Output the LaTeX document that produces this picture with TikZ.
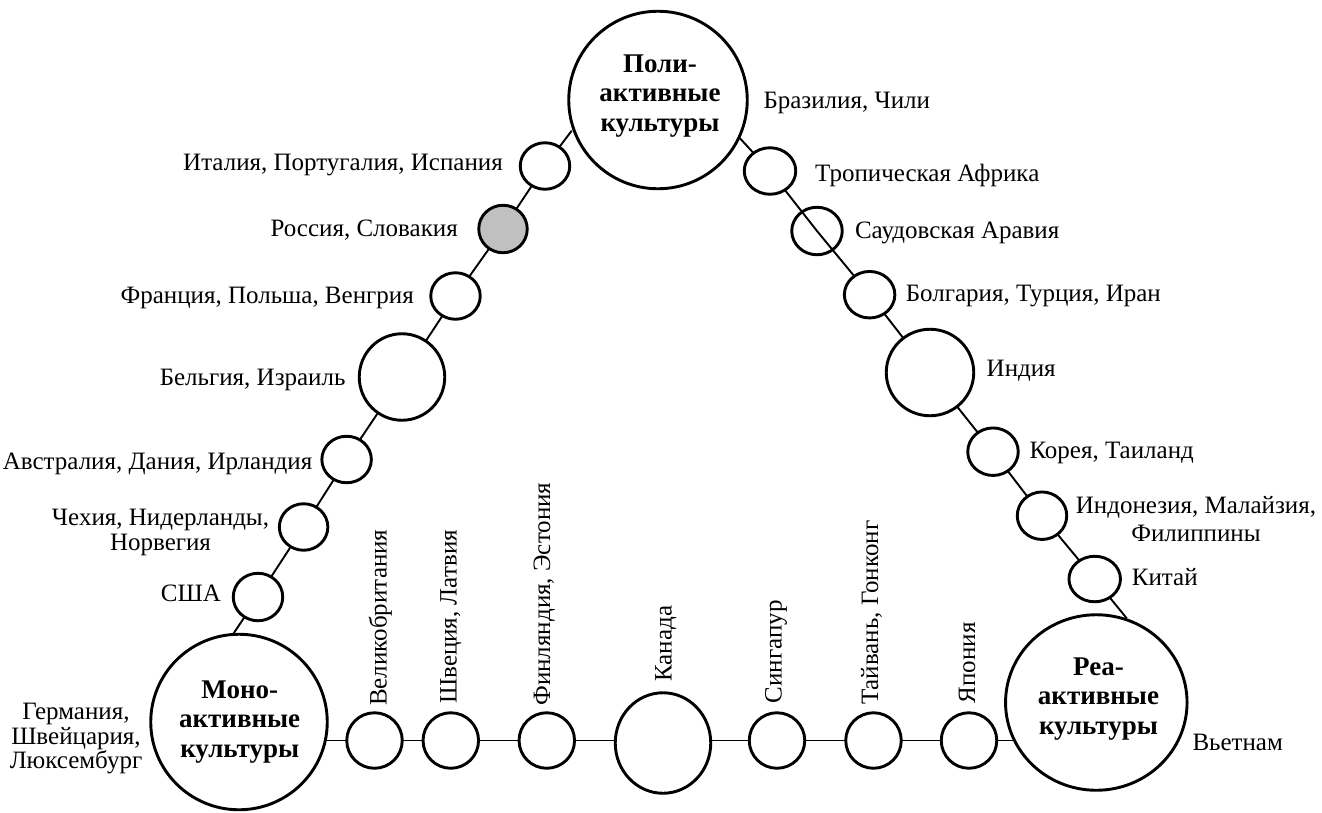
\documentclass[tikz,border=0pt]{standalone}
\usepackage{fontspec}
\setmainfont{Liberation Serif}
\usetikzlibrary{shapes.geometric}
\pgfdeclarelayer{background}
\pgfsetlayers{background,main}
\definecolor{rugray}{RGB}{192,192,192}
\tikzset{
  circ/.style={ellipse, draw, line width=2.9pt, fill=white, inner sep=0pt},
  sz/.style 2 args={minimum width=#1pt, minimum height=#2pt},
  conn/.style={line width=1.9pt},
  lbl/.style={inner sep=0pt, font=\fontsize{25}{24.5}\selectfont},
  lblv/.style={lbl, rotate=90, anchor=base west},
  big/.style={inner sep=0pt, align=center, font=\fontsize{27}{29.5}\selectfont\bfseries},
}
\begin{document}
\begin{tikzpicture}[x=1pt, y=-1pt]
\useasboundingbox (0,0) rectangle (1322,812);

% main circles
\node[circ, sz={178.5}{177.5}] (poli) at (658,100) {};
\node[circ, sz={176.5}{175.5}] (mono) at (239,722) {};
\node[circ, sz={181.5}{175.5}] (rea) at (1096.3,702.5) {};

% left chain
\node[circ, sz={49.5}{46.5}] (italy) at (545,166) {};
\node[circ, sz={48.5}{47.5}, fill=rugray] (russia) at (503,229) {};
\node[circ, sz={49.5}{46.5}] (france) at (455.5,296) {};
\node[circ, sz={85.5}{86.5}] (belgium) at (402,377) {};
\node[circ, sz={49.5}{46.5}] (australia) at (346.6,459.5) {};
\node[circ, sz={48.5}{46.5}] (czech) at (303.6,527) {};
\node[circ, sz={49.5}{47.5}] (usa) at (258,597) {};

% right chain
\node[circ, sz={51.5}{46.5}] (trop) at (770,171) {};
\node[circ, sz={50.5}{47.5}, fill=none] (saudi) at (817,231) {};
\node[circ, sz={50.5}{46.5}] (bulgaria) at (869.6,294.7) {};
\node[circ, sz={87.5}{86.5}] (india) at (930,372.5) {};
\node[circ, sz={50.5}{47.5}] (korea) at (993,451.7) {};
\node[circ, sz={49.5}{47.5}] (indonesia) at (1042,515.7) {};
\node[circ, sz={51.5}{45.5}] (china) at (1094.7,579) {};

% bottom row
\node[circ, sz={55.5}{55.5}] (gb) at (374.5,740.5) {};
\node[circ, sz={55.5}{55.5}] (sweden) at (450.8,740.5) {};
\node[circ, sz={55.5}{55.5}] (finland) at (546.8,740.5) {};
\node[circ, sz={95.5}{100.5}] (canada) at (663,743) {};
\node[circ, sz={55.5}{55.5}] (singapore) at (777,740.5) {};
\node[circ, sz={55.5}{55.5}] (taiwan) at (873.5,740.5) {};
\node[circ, sz={55.5}{55.5}] (japan) at (969,740.5) {};

% free ends on the big circles
\coordinate (poliL) at (571.7,130.7);
\coordinate (poliR) at (739.7,138);
\coordinate (monoT) at (233.5,633.5);
\coordinate (reaT) at (1126.7,618.3);

\begin{pgfonlayer}{background}
  \draw[conn] (poliL) -- (italy.center) -- (russia.center) -- (france.center)
     -- (belgium.center) -- (australia.center) -- (czech.center) -- (usa.center) -- (monoT);
  \draw[conn] (poliR) -- (trop.center) -- (saudi.center) -- (bulgaria.center)
     -- (india.center) -- (korea.center) -- (indonesia.center) -- (china.center) -- (reaT);
  \draw[conn] (gb.center -| mono.center) -- (gb.center) -- (sweden.center) -- (finland.center)
     -- (canada.center |- gb.center) -- (singapore.center) -- (taiwan.center) -- (japan.center)
     -- (japan.center -| rea.center);
\end{pgfonlayer}

% bold titles
\node[big] (tpoli) at (660,95.8) {Поли-\\активные\\культуры};
\node[big] (tmono) at (239.7,721.6) {Моно-\\активные\\культуры};
\node[big] (trea) at (1098.5,699) {Реа-\\активные\\культуры};

% left labels
\node[lbl, anchor=base east] (litaly) at (503,170.7) {Италия, Португалия, Испания};
\node[lbl, anchor=base east] (lrussia) at (458,236.5) {Россия, Словакия};
\node[lbl, anchor=base east] (lfrance) at (414,303.5) {Франция, Польша, Венгрия};
\node[lbl, anchor=base east] (lbelgium) at (345.7,385) {Бельгия, Израиль};
\node[lbl, anchor=base east] (laustralia) at (312.5,469) {Австралия, Дания, Ирландия};
\node[lbl, align=center] (lczech) at (160.5,532.5) {Чехия, Нидерланды,\\Норвегия};
\node[lbl, anchor=base east] (lusa) at (221,601.5) {США};
\node[lbl, align=center] (lgermany) at (76,738.7) {Германия,\\Швейцария,\\Люксембург};

% right labels
\node[lbl, anchor=base west] (lbrazil) at (763.3,108.3) {Бразилия, Чили};
\node[lbl, anchor=base west] (ltrop) at (815,181.5) {Тропическая Африка};
\node[lbl, anchor=base west] (lsaudi) at (854.8,238.5) {Саудовская Аравия};
\node[lbl, anchor=base west] (lbulgaria) at (905.6,301) {Болгария, Турция, Иран};
\node[lbl, anchor=base west] (lindia) at (986.5,376.5) {Индия};
\node[lbl, anchor=base west] (lkorea) at (1029.3,458.5) {Корея, Таиланд};
\node[lbl, align=center, font=\fontsize{25}{28}\selectfont] (lindonesia) at (1196,519) {Индонезия, Малайзия,\\Филиппины};
\node[lbl, anchor=base west] (lchina) at (1131.7,585.7) {Китай};
\node[lbl, anchor=base west] (lvietnam) at (1192.3,750) {Вьетнам};

% bottom vertical labels
\node[lblv] (lgb) at (386.5,706) {Великобритания};
\node[lblv] (lsweden) at (456.7,704) {Швеция, Латвия};
\node[lblv] (lfinland) at (550,705.7) {Финляндия, Эстония};
\node[lblv] (lcanada) at (671.7,681.7) {Канада};
\node[lblv] (lsingapore) at (781.7,703.3) {Сингапур};
\node[lblv] (ltaiwan) at (878,705) {Тайвань, Гонконг};
\node[lblv] (ljapan) at (975,703.3) {Япония};
\end{tikzpicture}
\end{document}
